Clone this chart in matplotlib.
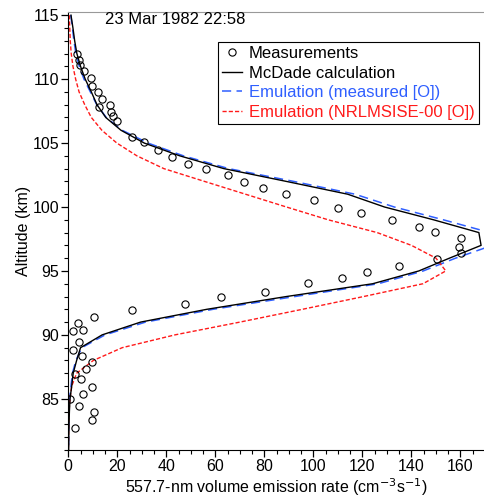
import numpy as np
import matplotlib
matplotlib.use("Agg")
import matplotlib.pyplot as plt
from matplotlib.ticker import MultipleLocator

plt.rcParams['font.family'] = ['Liberation Sans', 'DejaVu Sans']

# ---------------------------------------------------------------------------
# data
# ---------------------------------------------------------------------------

# measurements (emission rate, altitude)
meas_ver = [3.4, 4.2, 4.8, 6.4, 9.1, 9.7, 12.2, 13.9, 12.4, 17.0, 17.4, 18.3, 20.0,
            26.1, 31.0, 36.7, 42.2, 48.9, 56.0, 65.2, 71.7, 79.4, 88.7, 100.2,
            109.9, 119.6, 131.9, 142.9, 149.8, 160.2, 159.3, 160.2, 150.6, 134.8,
            122.0, 111.8, 97.8, 80.1, 62.1, 47.8, 26.1, 10.6, 4.1, 1.8, 5.8, 4.5,
            1.8, 5.7, 9.7, 7.1, 2.7, 5.2, 9.7, 6.1, 0.7, 4.4, 10.5, 9.5, 2.7]
meas_alt = [111.93, 111.48, 111.07, 110.60, 110.05, 109.43, 108.98, 108.43, 107.83,
            107.96, 107.44, 107.10, 106.71, 105.46, 105.05, 104.42, 103.90, 103.40,
            102.94, 102.49, 101.98, 101.45, 101.00, 100.51, 99.96, 99.50, 98.97,
            98.46, 98.07, 97.59, 96.88, 96.42, 95.95, 95.39, 94.91, 94.46, 94.02,
            93.37, 92.93, 92.38, 91.96, 91.41, 90.94, 90.33, 90.37, 89.46, 88.81,
            88.34, 87.91, 87.35, 86.95, 86.52, 85.91, 85.37, 85.00, 84.43, 83.98,
            83.33, 82.73]

alt_grid = [115, 114, 113, 112, 111, 110, 109, 108, 107, 106, 105, 104, 103, 102,
            101, 100, 99, 98, 97, 96, 95, 94, 93, 92, 91, 90, 89, 88, 87, 86, 85,
            84, 83, 82, 81]

mcdade = [1.1, 1.9, 2.6, 3.5, 5.0, 6.9, 9.4, 11.7, 15.3, 21.5, 31.0, 45.5, 63.5,
          89.0, 114.0, 129.0, 149.0, 167.5, 168.4, 155.5, 143.0, 124.2, 89.0,
          56.5, 29.5, 13.8, 5.0, 3.4, 2.0, 1.4, 0.7, 0.45, 0.3, 0.2, 0.15]

emul_meas = [1.0, 1.7, 2.3, 3.1, 4.5, 6.4, 9.0, 11.6, 15.5, 22.0, 32.5, 47.0, 65.5,
             92.0, 117.0, 133.0, 153.0, 172.0, 173.0, 158.0, 144.8, 126.5, 92.5,
             59.0, 31.5, 15.0, 5.5, 3.1, 1.7, 1.1, 0.5, 0.3, 0.2, 0.15, 0.1]

emul_msis = [0.4, 0.6, 0.8, 1.2, 1.9, 3.0, 4.4, 6.7, 9.4, 13.7, 19.8, 28.0, 39.0,
             55.6, 72.3, 89.0, 106.0, 126.0, 140.0, 150.0, 154.0, 144.7, 120.5,
             95.5, 70.0, 43.5, 22.0, 10.2, 3.4, 1.4, 0.7, 0.3, 0.15, 0.1, 0.05]

title_text = "23 Mar 1982 22:58"

# ---------------------------------------------------------------------------
# figure
# ---------------------------------------------------------------------------

fig = plt.figure(figsize=(4.85, 4.97), dpi=100)
ax = fig.add_axes([0.1408, 0.0946, 0.8592, 0.8813])

ax.plot(meas_ver, meas_alt, linestyle='none', marker='o', markersize=5.2,
        markerfacecolor='none', markeredgecolor='black', markeredgewidth=0.8,
        label='Measurements', zorder=3)
ax.plot(mcdade, alt_grid, color='black', linewidth=1.0,
        label='McDade calculation', zorder=4)
ax.plot(emul_meas, alt_grid, color='#2f5fff', linewidth=1.1,
        dashes=(6, 3.5), label='Emulation (measured [O])', zorder=2)
ax.plot(emul_msis, alt_grid, color='#ff1a1a', linewidth=1.0,
        dashes=(3, 1.5), label='Emulation (NRLMSISE-00 [O])', zorder=2)

ax.set_xlim(0, 170)
ax.set_ylim(81, 115.25)
ax.xaxis.set_major_locator(MultipleLocator(20))
ax.xaxis.set_minor_locator(MultipleLocator(5))
ax.yaxis.set_major_locator(MultipleLocator(5))
ax.yaxis.set_minor_locator(MultipleLocator(1))
ax.tick_params(which='major', direction='out', length=5, width=0.9,
               labelsize=11.5, pad=1.5)
ax.tick_params(which='minor', direction='out', length=3.2, width=0.8)
ax.tick_params(top=False, right=False)

ax.spines['right'].set_visible(False)
ax.spines['top'].set_color('#999999')
ax.spines['top'].set_linewidth(0.8)

ax.set_xlabel("557.7-nm volume emission rate (cm$^{-3}$s$^{-1}$)",
              fontsize=11.5, labelpad=2)
ax.set_ylabel("Altitude (km)", fontsize=11.5, labelpad=1)

ax.text(0.088, 0.982, title_text, transform=ax.transAxes, fontsize=12,
        ha='left', va='center')

leg = ax.legend(loc='upper right', bbox_to_anchor=(479 / 485, 1 - 41.7 / 497),
                bbox_transform=fig.transFigure, fontsize=12, frameon=True,
                fancybox=False, edgecolor='black', framealpha=1,
                handlelength=1.2, handletextpad=0.4, labelspacing=0.28,
                borderpad=0.25, borderaxespad=0)
leg.get_frame().set_linewidth(0.8)
for txt, col in zip(leg.get_texts(), ['black', 'black', '#2f5fff', '#ff1a1a']):
    txt.set_color(col)

fig.savefig('out.png', dpi=100)
